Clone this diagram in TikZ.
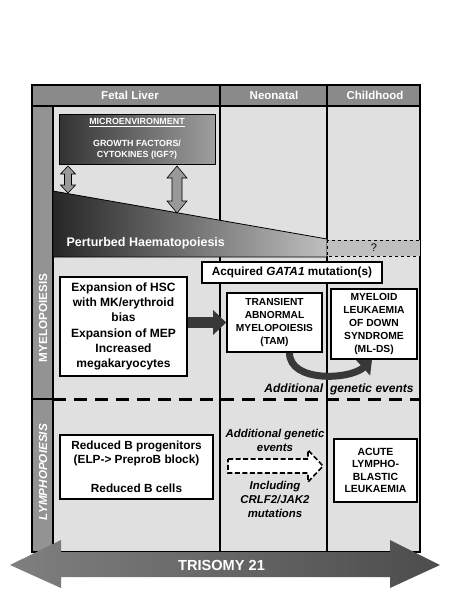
\documentclass[tikz,border=0pt]{standalone}
\usepackage{fontspec}
\setmainfont{Liberation Sans}
\usepackage{xcolor}
\usepackage{tikz}
\usetikzlibrary{arrows.meta, positioning}

\definecolor{hdrgray}{HTML}{8A8A8A}
\definecolor{bodygray}{HTML}{E0E0E0}
\definecolor{stripgray}{HTML}{939393}

% vertical double arrow: x, top, bottom, shaft half, head half, head length
\newcommand{\updown}[6]{%
  \draw[dblarrow] (#1-#4,#2+#6) -- (#1-#5,#2+#6) -- (#1,#2) -- (#1+#5,#2+#6) -- (#1+#4,#2+#6)
    -- (#1+#4,#3-#6) -- (#1+#5,#3-#6) -- (#1,#3) -- (#1-#5,#3-#6) -- (#1-#4,#3-#6) -- cycle;}

\begin{document}
\begin{tikzpicture}[x=1pt, y=-1pt,
    box/.style={draw, line width=1.6pt, fill=white, align=center, inner sep=0pt},
    hdr/.style={text=white, font=\bfseries\fontsize{11.5}{13}\selectfont},
    side/.style={rotate=90, text=white, font=\bfseries\fontsize{11.7}{13}\selectfont},
    note/.style={align=center, font=\bfseries\itshape\fontsize{11.4}{14}\selectfont},
    dblarrow/.style={draw, line width=0.6pt, fill=black!40},
    grid/.style={draw, line width=1.1pt},
    fat/.style={line width=11pt, draw=black!78, -{Triangle[length=13pt, width=24pt]}}
]

\useasboundingbox (0,0) rectangle (450,603);

% Frame and columns
\fill[bodygray] (53,106) rectangle (420,552);
\fill[hdrgray] (32,85) rectangle (420,106);
\fill[stripgray] (32,106) rectangle (53,552);
\draw[grid] (32,85) rectangle (420,552);
\draw[grid] (32,106) -- (420,106);
\draw[grid] (53,106) -- (53,552);
\draw[grid] (220,85) -- (220,552);
\draw[grid] (327,85) -- (327,552);
\draw[grid] (32,399) -- (53,399);

\node[hdr] (fetal) at (130,95.5) {Fetal Liver};
\node[hdr] (neo) at (274,95.5) {Neonatal};
\node[hdr] (child) at (375,95.5) {Childhood};

\node[side] (myelo) at (43,318) {MYELOPOIESIS};
\node[side, font=\bfseries\itshape\fontsize{11.7}{13}\selectfont] (lympho) at (43,472) {LYMPHOPOIESIS};

% Microenvironment
\node[draw, line width=0.8pt, left color=black!80, middle color=black!74, right color=black!38,
      minimum width=156pt, minimum height=50pt, text=white, align=center,
      font=\bfseries\fontsize{8.9}{11}\selectfont] (micro) at (137,139)
      {\underline{MICROENVIRONMENT}\\[11pt]GROWTH FACTORS/\\CYTOKINES (IGF?)};

% Perturbed haematopoiesis
\shade[left color=black!85, right color=black!25, draw=black, line width=0.8pt]
  (53,191) -- (327,239) -- (327,257) -- (53,257) -- cycle;
\node[anchor=west, text=white, font=\bfseries\fontsize{12.5}{14}\selectfont] (perturbed) at (63,243) {Perturbed Haematopoiesis};
\draw[dashed, line width=0.9pt, fill=black!25] (327,240) rectangle (420,256);
\node[font=\fontsize{11}{12}\selectfont] (query) at (374,248) {?};

\updown{68}{166}{193}{3.5}{7.5}{8}
\updown{177}{166}{213}{5}{10}{12}

% Myelopoiesis
\node[box, minimum width=180pt, minimum height=21pt, font=\bfseries\fontsize{11.8}{13}\selectfont] (gata) at (292,272.5)
  {Acquired \textit{GATA1} mutation(s)};
\node[box, minimum width=127pt, minimum height=99pt, font=\bfseries\fontsize{12}{15.3}\selectfont] (expand) at (123.5,326.5)
  {Expansion of HSC\\with MK/erythroid\\bias\\Expansion of MEP\\Increased\\megakaryocytes};
\node[box, minimum width=95pt, minimum height=59pt, font=\bfseries\fontsize{10.2}{12.8}\selectfont] (tam) at (274.5,322.5)
  {TRANSIENT\\ABNORMAL\\MYELOPOIESIS\\(TAM)};
\node[box, minimum width=86pt, minimum height=70pt, font=\bfseries\fontsize{10.3}{12.8}\selectfont] (mlds) at (374,324)
  {MYELOID\\LEUKAEMIA\\OF DOWN\\SYNDROME\\(ML-DS)};

\draw[fat] (expand.east |- tam) -- (tam.west);
\draw[fat, line width=7pt, -{Triangle[length=12pt, width=20pt]}]
  ([xshift=15pt]tam.south) .. controls +(0,30) and +(-22,20) .. ([xshift=-2pt]mlds.south);
\node[note, font=\bfseries\itshape\fontsize{12}{14}\selectfont] (addmyelo) at (339,389) {Additional\hspace{7pt}genetic events};

\draw[line width=3pt, dash pattern=on 13pt off 8pt] (53,399) -- (420,399);

% Lymphopoiesis
\node[box, minimum width=153pt, minimum height=64pt, font=\bfseries\fontsize{11.8}{14.5}\selectfont] (redb) at (136.5,467)
  {Reduced B progenitors\\(ELP-> PreproB block)\\[14.5pt]Reduced B cells};
\node[note] (addlympho) at (275,440) {Additional genetic\\events};
\node[note] (crlf) at (275,499) {Including\\CRLF2/JAK2\\mutations};
\draw[line width=1.6pt, dash pattern=on 5pt off 2.5pt, fill=white]
  (228,459) -- (308,459) -- (308,450) -- (323,466) -- (308,482) -- (308,473) -- (228,473) -- cycle;
\node[box, minimum width=83pt, minimum height=63pt, font=\bfseries\fontsize{10.4}{12.6}\selectfont] (all) at (375.5,470.5)
  {ACUTE\\LYMPHO-\\BLASTIC\\LEUKAEMIA};

% Trisomy 21 arrow
\shade[left color=black!50, right color=black!70]
  (10,565) -- (61,540) -- (61,552) -- (390,552) -- (390,540) -- (440,565)
  -- (390,588) -- (390,577) -- (61,577) -- (61,588) -- cycle;
\node[text=white, font=\bfseries\fontsize{14.6}{16}\selectfont] (trisomy) at (221.5,565) {TRISOMY 21};

\end{tikzpicture}
\end{document}
